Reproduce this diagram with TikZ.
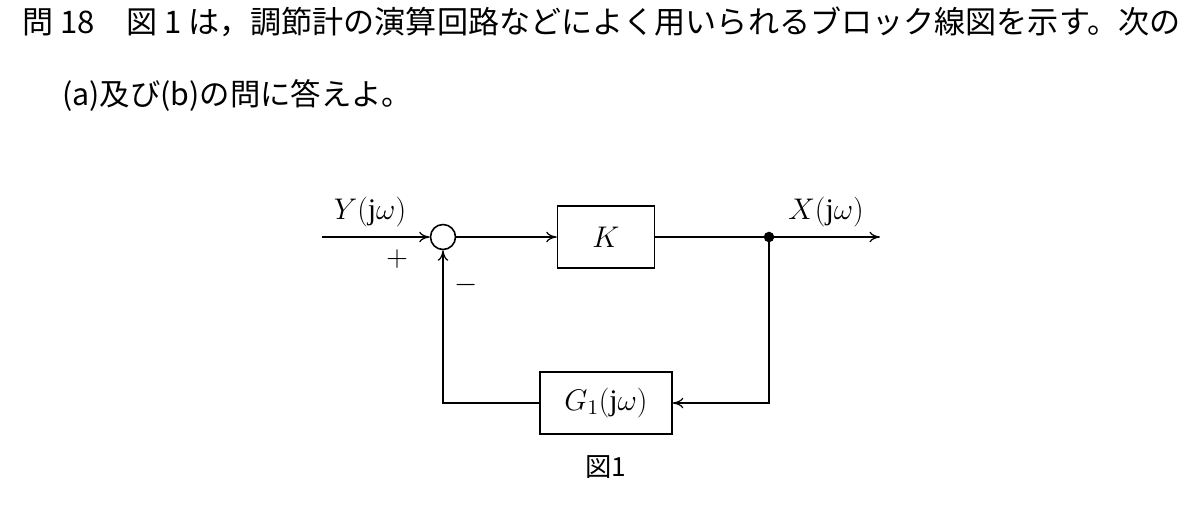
\RequirePackage{fix-cm}
\documentclass[tikz,border=0pt]{standalone}
\usepackage{fontspec}
\usepackage{graphicx}
\setmainfont{Liberation Serif}
\newfontfamily\cjk{Noto Sans CJK JP}
\usetikzlibrary{arrows.meta}
\begin{document}
\begin{tikzpicture}[x=0.02cm,y=-0.02cm,
  wire/.style={line width=0.7pt},
  arr/.style={wire,-{To[length=6pt,width=6pt]}},
  blk/.style={draw,line width=0.9pt,inner sep=0pt},
  lab/.style={font=\fontsize{17pt}{19pt}\selectfont}]
\useasboundingbox (0,0) rectangle (1200,511);
\node[anchor=west,inner sep=0pt] (t1) at (22,22) {\resizebox{23.16cm}{!}{\cjk 問 18\hspace{1em}図 1 は，調節計の演算回路などによく用いられるブロック線図を示す。次の}};
\node[anchor=west,inner sep=0pt] (t2) at (62,95) {\resizebox{7cm}{!}{\cjk (a)及び(b)の問に答えよ。}};
\coordinate (in) at (322,237);
\node[draw,circle,minimum size=0.5cm,inner sep=0pt,line width=0.9pt] (s) at (443,237) {};
\node[blk,minimum width=1.94cm,minimum height=1.24cm,lab] (K) at (606,237) {$K$};
\node[blk,minimum width=2.64cm,minimum height=1.24cm,lab] (G) at (606,403) {$G_1(\mathrm{j}\omega)$};
\node[circle,fill,inner sep=0pt,minimum size=6pt] (d) at (769,237) {};
\coordinate (out) at (880,237);
\coordinate (c1) at (769,403);
\coordinate (c2) at (443,403);
\node[lab] (Y) at (370,212) {$Y(\mathrm{j}\omega)$};
\node[lab] (X) at (826,212) {$X(\mathrm{j}\omega)$};
\node[lab] (p) at (397,259) {$+$};
\node[lab] (m) at (466,285) {$-$};
\node[font=\cjk\fontsize{15pt}{17pt}\selectfont] (f) at (606,467) {図1};
\draw[arr] (in) -- (s.west);
\draw[arr] (s.east) -- (K.west);
\draw[arr] (K.east) -- (out);
\draw[arr] (d.center) -- (c1) -- (G.east);
\draw[arr] (G.west) -- (c2) -- (s.south);
\end{tikzpicture}
\end{document}
